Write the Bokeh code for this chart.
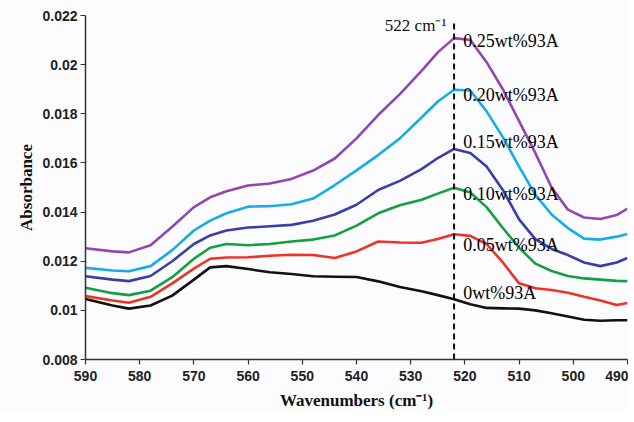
from bokeh.plotting import figure
from bokeh.models import Range1d, FixedTicker, ColumnDataSource
from bokeh.embed import file_html
from bokeh.resources import INLINE
from bokeh.core.properties import value

wavenumbers = [590, 585, 582, 578, 574, 570, 567, 564, 560, 556, 552, 548, 544, 540, 536,
               532, 528, 525, 522, 519, 516, 513, 510, 507, 504, 501, 498, 495, 492, 490]

s0 = [0.01046, 0.01020, 0.01007, 0.01020, 0.01060, 0.01125, 0.01175, 0.01180, 0.01168, 0.01155,
      0.01148, 0.01139, 0.01137, 0.01136, 0.01118, 0.01095, 0.01078, 0.01062, 0.01045, 0.01025,
      0.01010, 0.01008, 0.01007, 0.01000, 0.00988, 0.00975, 0.00962, 0.00958, 0.00960, 0.00960]
s05 = [0.01058, 0.01040, 0.01031, 0.01055, 0.01110, 0.01170, 0.01210, 0.01215, 0.01216, 0.01222,
       0.01226, 0.01225, 0.01213, 0.01240, 0.01280, 0.01276, 0.01275, 0.01290, 0.01310, 0.01303,
       0.01270, 0.01195, 0.01110, 0.01090, 0.01083, 0.01072, 0.01055, 0.01040, 0.01022, 0.01030]
s10 = [0.01092, 0.01070, 0.01062, 0.01080, 0.01135, 0.01210, 0.01255, 0.01270, 0.01265, 0.01270,
       0.01280, 0.01288, 0.01305, 0.01345, 0.01395, 0.01428, 0.01450, 0.01475, 0.01499, 0.01480,
       0.01420, 0.01335, 0.01255, 0.01190, 0.01160, 0.01140, 0.01130, 0.01125, 0.01120, 0.01119]
s15 = [0.01139, 0.01125, 0.01119, 0.01140, 0.01200, 0.01270, 0.01305, 0.01325, 0.01337, 0.01342,
       0.01348, 0.01365, 0.01390, 0.01430, 0.01490, 0.01527, 0.01575, 0.01620, 0.01657, 0.01640,
       0.01585, 0.01490, 0.01370, 0.01290, 0.01250, 0.01225, 0.01195, 0.01180, 0.01195, 0.01213]
s20 = [0.01173, 0.01162, 0.01159, 0.01180, 0.01245, 0.01325, 0.01365, 0.01395, 0.01422, 0.01424,
       0.01432, 0.01455, 0.01510, 0.01570, 0.01632, 0.01700, 0.01785, 0.01850, 0.01898, 0.01895,
       0.01810, 0.01705, 0.01585, 0.01470, 0.01390, 0.01335, 0.01292, 0.01288, 0.01300, 0.01311]
s25 = [0.01253, 0.01240, 0.01236, 0.01265, 0.01340, 0.01420, 0.01460, 0.01485, 0.01508, 0.01516,
       0.01535, 0.01569, 0.01618, 0.01700, 0.01795, 0.01880, 0.01975, 0.02050, 0.02108, 0.02100,
       0.02010, 0.01900, 0.01770, 0.01640, 0.01500, 0.01410, 0.01378, 0.01372, 0.01388, 0.01414]

series = [s0, s05, s10, s15, s20, s25]
series_labels = ["0wt%93A", "0.05wt%93A", "0.10wt%93A", "0.15wt%93A", "0.20wt%93A", "0.25wt%93A"]
label_y = [0.01070, 0.01268, 0.01474, 0.01684, 0.01877, 0.02095]
label_x = 520.3
colors = ["#111111", "#ee3226", "#12a040", "#3a3ea8", "#14aee4", "#9446b0"]

y_ticks = [0.008, 0.010, 0.012, 0.014, 0.016, 0.018, 0.020, 0.022]
y_tick_labels = ["0.008", "0.01", "0.012", "0.014", "0.016", "0.018", "0.02", "0.022"]
x_ticks = [590, 580, 570, 560, 550, 540, 530, 520, 510, 500, 490]

peak_x = 522
peak_top = 0.02176
peak_label = "522 cm\u207b\u00b9"

p = figure(width=628, height=412, output_backend="svg", toolbar_location=None,
           x_range=Range1d(590, 490), y_range=Range1d(0.008, 0.022),
           min_border_left=85, min_border_right=1, min_border_top=15, min_border_bottom=44)
p.background_fill_color = "#fcfcfe"
p.border_fill_color = "#fcfcfe"
p.outline_line_color = None
p.grid.visible = False

for ys, c in zip(series, colors):
    p.line(wavenumbers, ys, line_color=c, line_width=2.6, line_join="round")

p.segment(x0=[peak_x], y0=[0.008], x1=[peak_x], y1=[peak_top], line_color="#111111",
          line_width=2, line_dash="6 4")
p.text(x=[peak_x + 1.4], y=[0.0216], text=[peak_label], text_align="right",
       text_baseline="middle", text_font=value("Liberation Serif"), text_font_size="17px",
       text_color="#111111")

src = ColumnDataSource(dict(x=[label_x] * len(series_labels), y=label_y, t=series_labels))
p.text(x="x", y="y", text="t", source=src, text_align="left", text_baseline="middle",
       text_font=value("Liberation Serif"), text_font_size="18px", text_color="#000000")

for ax in (p.xaxis[0], p.yaxis[0]):
    ax.axis_line_color = "#333333"
    ax.axis_line_width = 1.5
    ax.major_tick_line_color = "#333333"
    ax.major_tick_line_width = 1.2
    ax.major_tick_out = 5
    ax.major_tick_in = 0
    ax.minor_tick_line_color = None
    ax.major_label_text_font = "Liberation Sans"
    ax.major_label_text_font_style = "bold"
    ax.major_label_text_font_size = "14px"
    ax.major_label_text_color = "#222222"
    ax.axis_label_text_font = "Liberation Serif"
    ax.axis_label_text_font_style = "bold"
    ax.axis_label_text_font_size = "17px"
    ax.axis_label_text_color = "#111111"

p.yaxis.ticker = FixedTicker(ticks=y_ticks)
p.yaxis.major_label_overrides = {t: l for t, l in zip(y_ticks, y_tick_labels)}
p.yaxis.major_label_standoff = 3
p.yaxis.axis_label = "Absorbance"
p.yaxis.axis_label_standoff = 3
p.xaxis.ticker = FixedTicker(ticks=x_ticks)
p.xaxis.major_label_standoff = 6
p.xaxis.axis_label = "Wavenumbers (cm\u207b\u00b9)"
p.xaxis.axis_label_standoff = 7

open("out.html", "w").write(file_html(p, INLINE))
